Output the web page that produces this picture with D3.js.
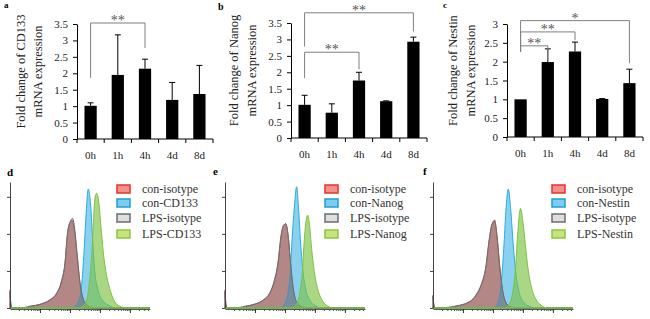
<!DOCTYPE html>
<html>
<head>
<meta charset="utf-8">
<script src="https://cdn.jsdelivr.net/npm/d3@7"></script>
<style>
body { margin: 0; background: #fff; }
svg { display: block; font-family: "Liberation Serif", "Times New Roman", serif; }
</style>
</head>
<body>
<svg id="fig" width="650" height="319"></svg>
<script>
// ---- qPCR bar charts (a, b, c) ----
var TIMES = ["0h", "1h", "4h", "4d", "8d"];
var YTICKS_AB = [0, 0.5, 1, 1.5, 2, 2.5, 3, 3.5];
var YTICKS_C = [0, 0.5, 1, 1.5, 2, 2.5, 3];

var CD133_MEAN = [1.01, 1.95, 2.14, 1.19, 1.37];
var CD133_ERR = [0.09, 1.22, 0.29, 0.53, 0.87];
var NANOG_MEAN = [1.01, 0.77, 1.75, 1.12, 2.93];
var NANOG_ERR = [0.29, 0.27, 0.25, 0.01, 0.14];
var NESTIN_MEAN = [1.00, 1.99, 2.27, 1.01, 1.43];
var NESTIN_ERR = [0.00, 0.35, 0.25, 0.01, 0.37];

// significance brackets: from, to, top level, left end, right end, label
var CD133_SIG = [["0h", "4h", 3.53, 1.86, 2.77, "**"]];
var NANOG_SIG = [["0h", "8d", 3.81, 2.78, 3.24, "**"], ["0h", "4h", 2.61, 1.82, 2.09, "**"]];
var NESTIN_SIG = [["0h", "8d", 3.09, 2.26, 1.96, "*"], ["0h", "4h", 2.79, 2.26, 2.57, "**"], ["0h", "1h", 2.42, 2.26, 2.04, "**"]];

// ---- flow cytometry histograms (d, e, f): [log10 intensity, count] ----
var D_CON_ISO = [[0,12],[0.03,3],[0.07,0],[0.5,0.3],[0.67,1.1],[1.0,2.3],[1.33,5.2],[1.56,9.7],[1.72,17.6],[1.83,28.8],[1.92,50],[2.0,57],[2.07,59],[2.15,52],[2.24,35],[2.33,17],[2.42,7.2],[2.53,2.8],[2.67,0.6],[2.9,0],[4.67,0]];
var D_LPS_ISO = [[0,11],[0.03,2.5],[0.07,0],[0.5,0.4],[0.67,1.2],[1.0,2.5],[1.33,5.6],[1.56,10.2],[1.72,18.4],[1.83,30],[1.92,51],[2.01,58.5],[2.09,60.4],[2.17,51.4],[2.25,34],[2.34,16.5],[2.43,7],[2.54,2.6],[2.68,0.6],[2.9,0],[4.67,0]];
var D_CON_CD133 = [[0,0],[2.0,0],[2.11,0.4],[2.28,4],[2.39,15.3],[2.47,37.9],[2.53,60.4],[2.61,80.2],[2.69,69.4],[2.76,44.6],[2.83,24.3],[2.94,12],[3.11,4.5],[3.33,1.4],[3.56,0],[4.67,0]];
var D_LPS_CD133 = [[0,0],[2.33,0],[2.5,2.9],[2.61,10.8],[2.69,26.6],[2.78,55.9],[2.83,73.9],[2.89,77.3],[2.96,71.7],[3.03,55.9],[3.11,37.9],[3.22,22.1],[3.36,10.8],[3.5,4],[3.72,0.7],[3.94,0],[4.67,0]];

var E_CON_ISO = [[0,12],[0.03,3],[0.07,0],[0.5,0.3],[0.67,1],[1.0,2.5],[1.3,5.5],[1.5,10],[1.65,18],[1.77,30],[1.87,48],[1.95,55],[2.02,57],[2.1,50],[2.17,34],[2.25,17],[2.33,7],[2.45,2.5],[2.6,0.6],[2.8,0],[4.67,0]];
var E_LPS_ISO = [[0,11],[0.03,2.5],[0.07,0],[0.5,0.4],[0.67,1.2],[1.0,2.7],[1.3,5.8],[1.5,10.5],[1.65,19],[1.77,31],[1.87,49],[1.96,56],[2.03,56.5],[2.11,48],[2.18,32],[2.26,16],[2.34,6.5],[2.46,2.3],[2.6,0.5],[2.8,0],[4.67,0]];
var E_CON_NANOG = [[0,0],[1.8,0],[1.89,0.5],[2.06,6.3],[2.17,22],[2.24,47],[2.31,67],[2.39,81.8],[2.46,65],[2.52,44.6],[2.59,26.6],[2.69,13],[2.83,5.2],[3.0,1.8],[3.22,0],[4.67,0]];
var E_LPS_NANOG = [[0,0],[2.22,0],[2.39,3],[2.5,10.8],[2.58,24.3],[2.64,44.6],[2.7,58],[2.76,62.6],[2.82,55.9],[2.89,40],[2.98,24.3],[3.09,13],[3.22,5.9],[3.39,1.8],[3.61,0],[4.67,0]];

var F_CON_ISO = [[0,8.6],[0.03,2],[0.07,0],[0.5,0.3],[0.72,1],[1.22,4],[1.44,8.6],[1.61,15.3],[1.76,26.6],[1.87,44.6],[1.96,55.9],[2.06,59.3],[2.13,49],[2.22,28.8],[2.31,13],[2.42,4],[2.56,1],[2.78,0],[4.67,0]];
var F_LPS_ISO = [[0,8],[0.03,2],[0.07,0],[0.5,0.4],[0.72,1.2],[1.22,4.3],[1.44,9],[1.61,16],[1.76,27.5],[1.87,45.5],[1.97,56.5],[2.05,58.5],[2.14,48],[2.23,28],[2.32,12.5],[2.43,3.8],[2.57,0.9],[2.78,0],[4.67,0]];
var F_CON_NESTIN = [[0,0],[1.95,0],[2.06,0.5],[2.2,6.3],[2.28,17.6],[2.36,40],[2.43,65],[2.51,80.2],[2.59,67],[2.67,44.6],[2.76,24.3],[2.87,10.8],[3.02,4],[3.22,1.1],[3.44,0],[4.67,0]];
var F_LPS_NESTIN = [[0,0],[2.39,0],[2.56,3],[2.67,12],[2.76,28.8],[2.83,51.4],[2.92,67.2],[3.0,58],[3.08,42.8],[3.17,26.6],[3.28,14.2],[3.42,6.3],[3.61,1.8],[3.83,0],[4.67,0]];

var HIST_YTICKS = [0, 25, 50, 75];

// series styles: con-isotype, con-marker, LPS-isotype, LPS-marker
var HIST_STYLE = [
    { fill: "#c84040", op: 0.55, stroke: "#b55a5a", boxStroke: "#e8322c", boxFill: "#f2908e" },
    { fill: "#29abe2", op: 0.55, stroke: "#29abe2", boxStroke: "#1c9fd8", boxFill: "#7dcdef" },
    { fill: "#707070", op: 0.40, stroke: "#6e6e6e", boxStroke: "#6d6d6d", boxFill: "#dedede" },
    { fill: "#7dc242", op: 0.65, stroke: "#7dc242", boxStroke: "#8cc63f", boxFill: "#c8e27c" }
];

var SERIF = "'Liberation Serif', 'Times New Roman', serif";

var svg = d3.select("#fig");

var panel_label = function (txt, x, y, size) {
    svg.append("text")
        .attr("x", x).attr("y", y)
        .attr("font-family", SERIF)
        .attr("font-size", size)
        .attr("font-weight", "bold")
        .text(txt);
};

var make_bar_panel = function (p) {
    var x = d3.scaleBand()
        .domain(TIMES)
        .range([p.left, p.right])
        .paddingInner(0.55)
        .paddingOuter(0.275);

    var y = d3.scaleLinear()
        .domain([0, p.ymax])
        .range([p.bottom, p.top]);

    var g = svg.append("g");

    // y axis
    g.append("g")
        .attr("transform", `translate(${p.left},0)`)
        .call(d3.axisLeft(y).tickValues(p.yticks).tickSize(4).tickSizeOuter(0).tickPadding(5).tickFormat(d3.format("~g")))
        .attr("font-family", SERIF).attr("font-size", 11)
        .call(g => g.selectAll("text").attr("fill", "#222"));

    // x axis: labels centred on bars, ticks on category boundaries
    var xg = g.append("g")
        .attr("transform", `translate(0,${p.bottom})`)
        .call(d3.axisBottom(x).tickSize(0).tickPadding(12))
        .attr("font-family", SERIF).attr("font-size", 11)
        .call(g => g.select(".domain").remove())
        .call(g => g.selectAll("text").attr("fill", "#222"));

    xg.append("line")
        .attr("x1", p.left).attr("x2", p.right)
        .attr("stroke", "#000");

    xg.selectAll(".sep")
        .data(d3.range(TIMES.length + 1))
        .join("line")
        .attr("class", "sep")
        .attr("x1", i => p.left + i * x.step())
        .attr("x2", i => p.left + i * x.step())
        .attr("y1", 0).attr("y2", 4)
        .attr("stroke", "#000");

    var rows = TIMES.map((t, i) => ({ t: t, m: p.mean[i], e: p.err[i] }));

    // error bars (upper only)
    var eg = g.append("g").attr("stroke", "#000");
    eg.selectAll(".ev")
        .data(rows.filter(d => d.e > 0))
        .join("line")
        .attr("x1", d => x(d.t) + x.bandwidth() / 2)
        .attr("x2", d => x(d.t) + x.bandwidth() / 2)
        .attr("y1", d => y(d.m))
        .attr("y2", d => y(d.m + d.e));
    eg.selectAll(".cap")
        .data(rows.filter(d => d.e > 0))
        .join("line")
        .attr("x1", d => x(d.t) + x.bandwidth() / 2 - 3)
        .attr("x2", d => x(d.t) + x.bandwidth() / 2 + 3)
        .attr("y1", d => y(d.m + d.e))
        .attr("y2", d => y(d.m + d.e));

    // bars
    g.append("g")
        .selectAll("rect")
        .data(rows)
        .join("rect")
        .attr("x", d => x(d.t))
        .attr("width", x.bandwidth())
        .attr("y", d => y(d.m))
        .attr("height", d => y(0) - y(d.m))
        .attr("fill", "#000");

    // significance brackets
    var cx = t => x(t) + x.bandwidth() / 2;
    var sg = g.append("g");
    sg.selectAll("path")
        .data(p.sig)
        .join("path")
        .attr("d", s => `M${cx(s[0])},${y(s[3])}V${y(s[2])}H${cx(s[1])}V${y(s[4])}`)
        .attr("fill", "none")
        .attr("stroke", "#7f7f7f");
    sg.selectAll("text")
        .data(p.sig)
        .join("text")
        .attr("x", s => (cx(s[0]) + cx(s[1])) / 2)
        .attr("y", s => y(s[2]) + 2)
        .attr("text-anchor", "middle")
        .attr("font-family", SERIF)
        .attr("font-size", 14)
        .attr("fill", "#555")
        .text(s => s[5]);

    // y label, two lines
    var midY = (p.top + p.bottom) / 2 - 10;
    [p.ylabel, "mRNA expression"].forEach(function (txt, i) {
        g.append("text")
            .attr("transform", `translate(${p.labelX[i]},${midY}) rotate(-90)`)
            .attr("text-anchor", "middle")
            .attr("font-family", SERIF)
            .attr("font-size", 12.5)
            .attr("fill", "#222")
            .text(txt);
    });
};

var make_hist_panel = function (p) {
    var x = d3.scaleLinear().domain([0, 4.67]).range([p.left, p.left + 140]);
    var y = d3.scaleLinear().domain([0, 85]).range([308, 182]);
    var g = svg.append("g");

    var area = d3.area()
        .x(d => x(d[0]))
        .y0(y(0))
        .y1(d => y(d[1]))
        .curve(d3.curveMonotoneX);

    g.append("g")
        .selectAll("path")
        .data(p.series)
        .join("path")
        .attr("d", area)
        .attr("fill", (d, i) => HIST_STYLE[i].fill)
        .attr("fill-opacity", (d, i) => HIST_STYLE[i].op)
        .attr("stroke", (d, i) => HIST_STYLE[i].stroke)
        .attr("stroke-width", 1);

    // y axis
    g.append("g")
        .attr("transform", `translate(${p.left},0)`)
        .call(d3.axisLeft(y).tickValues(HIST_YTICKS).tickSize(3).tickSizeOuter(0).tickFormat(""))
        .call(g => g.selectAll("line,path").attr("stroke", "#444"));

    // x axis: log decades with minor ticks
    var minor = [];
    for (var dec = 0; dec < 5; dec++) {
        for (var k = 2; k < 10; k++) {
            var v = dec + Math.log10(k);
            if (v < 4.67) minor.push(v);
        }
    }
    g.append("g")
        .attr("transform", `translate(0,${y(0) + 1})`)
        .call(d3.axisBottom(x).tickValues(minor).tickSize(2).tickSizeOuter(0).tickFormat(""))
        .call(g => g.selectAll("line,path").attr("stroke", "#555"));
    g.append("g")
        .attr("transform", `translate(0,${y(0) + 1})`)
        .call(d3.axisBottom(x).tickValues([1, 2, 3, 4]).tickSize(4).tickSizeOuter(0).tickFormat(""))
        .call(g => g.select(".domain").remove())
        .call(g => g.selectAll("line").attr("stroke", "#333"));

    // legend
    var rowY = [189, 203, 218, 234];
    var lg = g.append("g");
    lg.selectAll("rect")
        .data(p.names)
        .join("rect")
        .attr("x", p.legendX)
        .attr("y", (d, i) => rowY[i] - 4)
        .attr("width", 13)
        .attr("height", 8)
        .attr("fill", (d, i) => HIST_STYLE[i].boxFill)
        .attr("stroke", (d, i) => HIST_STYLE[i].boxStroke)
        .attr("stroke-width", 1.5);
    lg.selectAll("text")
        .data(p.names)
        .join("text")
        .attr("x", p.legendX + 25)
        .attr("y", (d, i) => rowY[i] + 4)
        .attr("font-family", SERIF)
        .attr("font-size", 12)
        .attr("fill", "#333")
        .text(d => d);
};

make_bar_panel({ left: 77, right: 213, top: 24, bottom: 139, ymax: 3.5, yticks: YTICKS_AB,
    mean: CD133_MEAN, err: CD133_ERR, sig: CD133_SIG, ylabel: "Fold change of CD133", labelX: [25, 42] });
make_bar_panel({ left: 291, right: 427, top: 23, bottom: 138, ymax: 3.5, yticks: YTICKS_AB,
    mean: NANOG_MEAN, err: NANOG_ERR, sig: NANOG_SIG, ylabel: "Fold change of Nanog", labelX: [238, 256] });
make_bar_panel({ left: 507, right: 643, top: 24, bottom: 137, ymax: 3, yticks: YTICKS_C,
    mean: NESTIN_MEAN, err: NESTIN_ERR, sig: NESTIN_SIG, ylabel: "Fold change of Nestin", labelX: [457, 475] });

make_hist_panel({ left: 10, legendX: 117, series: [D_CON_ISO, D_CON_CD133, D_LPS_ISO, D_LPS_CD133],
    names: ["con-isotype", "con-CD133", "LPS-isotype", "LPS-CD133"] });
make_hist_panel({ left: 225, legendX: 325, series: [E_CON_ISO, E_CON_NANOG, E_LPS_ISO, E_LPS_NANOG],
    names: ["con-isotype", "con-Nanog", "LPS-isotype", "LPS-Nanog"] });
make_hist_panel({ left: 433, legendX: 552, series: [F_CON_ISO, F_CON_NESTIN, F_LPS_ISO, F_LPS_NESTIN],
    names: ["con-isotype", "con-Nestin", "LPS-isotype", "LPS-Nestin"] });

panel_label("a", 4, 8, 9);
panel_label("b", 218, 10, 10);
panel_label("c", 443, 8, 9);
panel_label("d", 7, 176, 11);
panel_label("e", 213, 175, 11);
panel_label("f", 423, 175, 11);
</script>
</body>
</html>
